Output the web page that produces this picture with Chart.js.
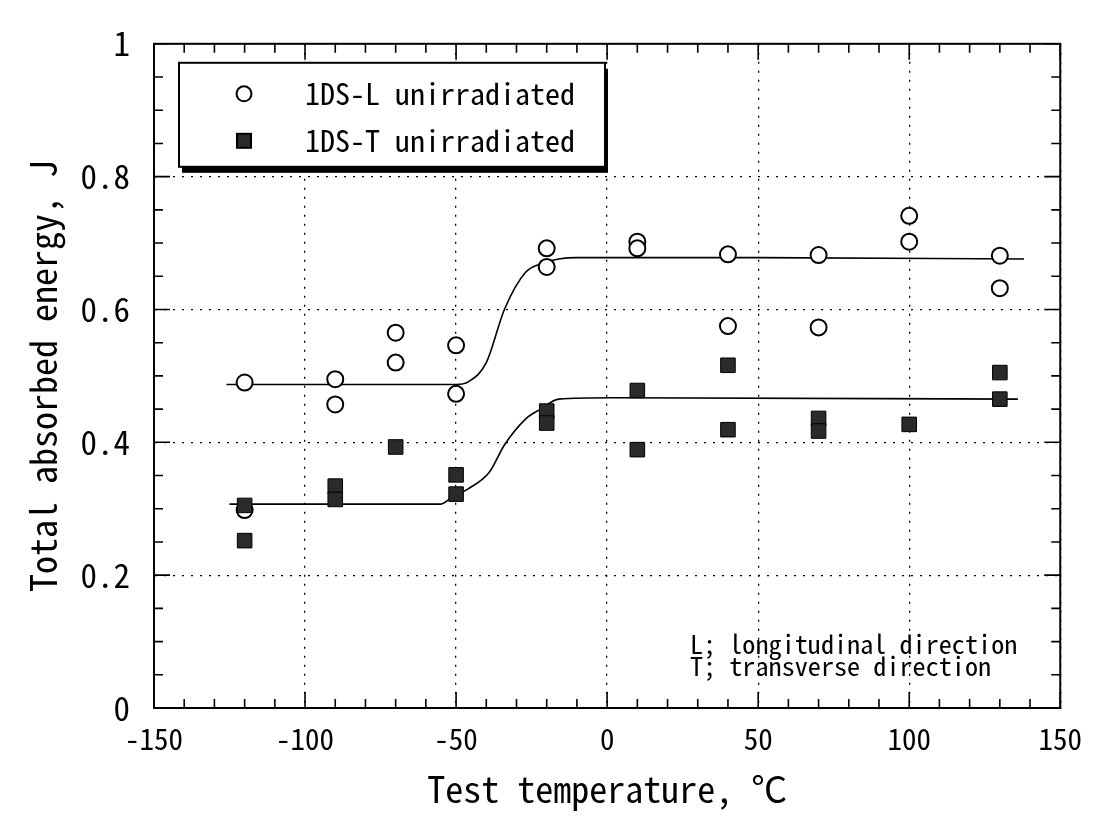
<!DOCTYPE html>
<html><head><meta charset="utf-8">
<script src="https://cdn.jsdelivr.net/npm/chart.js@4.4.1/dist/chart.umd.min.js"></script>
<style>html,body{margin:0;padding:0;background:#fff;}canvas{display:block;}</style>
</head><body>
<canvas id="c" width="1096" height="821"></canvas>
<script>
// ---- data ----
const seriesNames = ['1DS-L unirradiated', '1DS-T unirradiated'];
const tempL   = [-120, -120, -90, -90, -70, -70, -50, -50, -20, -20, 10, 10, 40, 40, 70, 70, 100, 100, 130, 130];
const energyL = [0.49, 0.298, 0.495, 0.457, 0.565, 0.52, 0.546, 0.473, 0.692, 0.664, 0.702, 0.692, 0.683, 0.575, 0.682, 0.573, 0.741, 0.702, 0.681, 0.632];
const tempT   = [-120, -120, -90, -90, -70, -50, -50, -20, -20, 10, 10, 40, 40, 70, 70, 100, 130, 130];
const energyT = [0.305, 0.252, 0.334, 0.314, 0.393, 0.351, 0.322, 0.447, 0.429, 0.478, 0.389, 0.516, 0.419, 0.436, 0.417, 0.427, 0.505, 0.465];
const curveLx = [-126, -50, -46, -40, -34, -27, -21, -16, -10, 50, 138];
const curveLy = [0.487, 0.487, 0.491, 0.52, 0.60, 0.656, 0.670, 0.676, 0.678, 0.678, 0.676];
const curveTx = [-125, -55, -52, -46, -39, -34, -27, -22, -16, 2, 136];
const curveTy = [0.307, 0.307, 0.315, 0.33, 0.355, 0.396, 0.435, 0.45, 0.465, 0.467, 0.465];
const xTicks = {min: -150, max: 150, major: 50, minor: 10};
const yTicks = {min: 0, max: 1, major: 0.2, minor: 0.05};
const xTitle = 'Test temperature, \u2103';
const yTitle = 'Total absorbed energy, J';
const noteLines = ['L; longitudinal direction', 'T; transverse direction'];

const zip = (xs, ys) => xs.map((v, i) => ({x: v, y: ys[i]}));

const FONT = "'Noto Sans Mono CJK JP','Noto Sans Mono CJK SC','DejaVu Sans Mono',monospace";
const mctx = document.createElement('canvas').getContext('2d');
mctx.font = '100px ' + FONT;
const ratio = mctx.measureText('0000000000').width / 1000;
const sz = w => Math.round(w / ratio * 10) / 10;

const frame = {
  id: 'frame',
  afterDraw(chart) {
    const {ctx, chartArea: a, scales: {x, y}} = chart;
    ctx.save();
    ctx.strokeStyle = '#000';
    ctx.lineWidth = 2;
    ctx.strokeRect(a.left, a.top, a.right - a.left, a.bottom - a.top);
    ctx.lineWidth = 1.6;
    ctx.beginPath();
    const nx = Math.round((xTicks.max - xTicks.min) / xTicks.minor);
    for (let i = 0; i <= nx; i++) {
      const v = xTicks.min + i * xTicks.minor;
      const px = x.getPixelForValue(v);
      const L = (i % Math.round(xTicks.major / xTicks.minor) === 0) ? 16 : 9;
      ctx.moveTo(px, a.bottom); ctx.lineTo(px, a.bottom - L);
      ctx.moveTo(px, a.top); ctx.lineTo(px, a.top + L);
    }
    const ny = Math.round((yTicks.max - yTicks.min) / yTicks.minor);
    for (let i = 0; i <= ny; i++) {
      const v = yTicks.min + i * yTicks.minor;
      const py = y.getPixelForValue(v);
      const L = (i % Math.round(yTicks.major / yTicks.minor) === 0) ? 16 : 9;
      ctx.moveTo(a.left, py); ctx.lineTo(a.left + L, py);
      ctx.moveTo(a.right, py); ctx.lineTo(a.right - L, py);
    }
    ctx.stroke();

    // legend box with drop shadow
    const bx = a.left + 25, by = a.top + 19, bw = 426, bh = 104;
    ctx.fillStyle = '#000';
    ctx.fillRect(bx + 3, by + 6, bw, bh);
    ctx.fillStyle = '#fff';
    ctx.fillRect(bx, by, bw, bh);
    ctx.lineWidth = 2;
    ctx.strokeRect(bx, by, bw, bh);
    const mx = bx + 65;
    const rows = [by + 31, by + 78];
    ctx.beginPath();
    ctx.arc(mx, rows[0], 7.5, 0, Math.PI * 2);
    ctx.fillStyle = '#fff'; ctx.fill();
    ctx.lineWidth = 2; ctx.stroke();
    ctx.fillStyle = '#2a2a2a';
    ctx.fillRect(mx - 7, rows[1] - 7, 14, 14);
    ctx.strokeRect(mx - 7, rows[1] - 7, 14, 14);
    ctx.fillStyle = '#000';
    ctx.font = sz(15) + 'px ' + FONT;
    ctx.textBaseline = 'middle';
    ctx.textAlign = 'left';
    ctx.fillText(seriesNames[0], bx + 126, rows[0]);
    ctx.fillText(seriesNames[1], bx + 126, rows[1]);

    // note
    ctx.font = sz(13.1) + 'px ' + FONT;
    ctx.fillText(noteLines[0], 690, a.bottom - 64);
    ctx.fillText(noteLines[1], 690, a.bottom - 42);
    ctx.restore();
  }
};

new Chart(document.getElementById('c'), {
  type: 'scatter',
  data: {
    datasets: [
      {label: seriesNames[1], data: zip(tempT, energyT), pointStyle: 'rect', pointRadius: 10.3,
       backgroundColor: '#2a2a2a', borderColor: '#000', borderWidth: 1, showLine: false},
      {label: seriesNames[0], data: zip(tempL, energyL), pointStyle: 'circle', pointRadius: 8,
       backgroundColor: '#fff', borderColor: '#000', borderWidth: 2, showLine: false},
      {label: 'fit L', data: zip(curveLx, curveLy), showLine: true, pointRadius: 0, borderColor: '#000',
       borderWidth: 1.6, cubicInterpolationMode: 'monotone', fill: false},
      {label: 'fit T', data: zip(curveTx, curveTy), showLine: true, pointRadius: 0, borderColor: '#000',
       borderWidth: 1.6, cubicInterpolationMode: 'monotone', fill: false}
    ]
  },
  options: {
    responsive: false,
    animation: false,
    devicePixelRatio: 1,
    layout: {padding: {left: 0, top: 30, right: 23, bottom: 0}},
    plugins: {legend: {display: false}, tooltip: {enabled: false}},
    scales: {
      x: {
        type: 'linear', min: xTicks.min, max: xTicks.max,
        afterFit: s => { s.height = 113; },
        ticks: {stepSize: xTicks.major, color: '#000', padding: 14, maxRotation: 0,
                font: {family: FONT, size: sz(14.5)}},
        grid: {color: '#000', lineWidth: 1.3, drawTicks: false},
        border: {display: true, color: '#000', width: 2, dash: [2, 7]},
        title: {display: true, text: xTitle, color: '#000', padding: {top: 0, bottom: 10},
                font: {family: FONT, size: sz(18)}}
      },
      y: {
        type: 'linear', min: yTicks.min, max: yTicks.max,
        afterFit: s => { s.width = 154; },
        ticks: {stepSize: yTicks.major, color: '#000', padding: 24,
                callback: v => String(+v.toFixed(2)),
                font: {family: FONT, size: sz(16.5)}},
        grid: {color: '#000', lineWidth: 1.3, drawTicks: false},
        border: {display: true, color: '#000', width: 2, dash: [2, 7]},
        title: {display: true, text: yTitle, color: '#000', padding: {top: 22, bottom: 0},
                font: {family: FONT, size: sz(18)}}
      }
    }
  },
  plugins: [frame]
});
</script>
</body></html>
